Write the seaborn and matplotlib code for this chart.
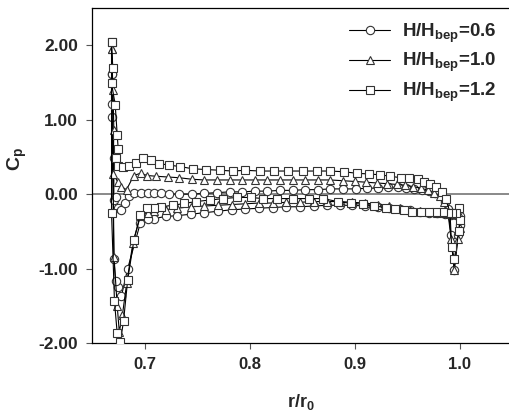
import pandas as pd
import matplotlib
matplotlib.use("Agg")
import matplotlib.pyplot as plt
import seaborn as sns

# pressure coefficient along the blade, each series is a closed loop
# (leading edge -> upper side -> trailing edge -> lower side -> leading edge)
x_06 = [0.6686, 0.6686, 0.6693, 0.6708, 0.6708, 0.6724, 0.6745, 0.6780, 0.6810, 0.6850,
        0.6900, 0.6970, 0.7030, 0.7090, 0.7160, 0.7230, 0.7330, 0.7450, 0.7570, 0.7690,
        0.7810, 0.7930, 0.8050, 0.8170, 0.8290, 0.8410, 0.8530, 0.8650, 0.8770, 0.8890,
        0.9010, 0.9120, 0.9220, 0.9320, 0.9410, 0.9490, 0.9570, 0.9640, 0.9710, 0.9770,
        0.9820, 0.9860, 0.9890, 0.9920, 0.9950, 0.9985, 1.0000, 1.0000, 0.9970, 0.9920,
        0.9860, 0.9790, 0.9710, 0.9620, 0.9530, 0.9430, 0.9330, 0.9220, 0.9100, 0.8980,
        0.8860, 0.8740, 0.8610, 0.8480, 0.8350, 0.8220, 0.8090, 0.7960, 0.7830, 0.7700,
        0.7570, 0.7440, 0.7310, 0.7200, 0.7090, 0.7030, 0.6960, 0.6840, 0.6780, 0.6745,
        0.6725, 0.6708, 0.6686]
cp_06 = [1.62, 1.21, 1.03, 0.48, -0.08, -0.04, -0.19, -0.21, -0.12, -0.02,
         0.01, 0.02, 0.02, 0.01, 0.01, 0.00, 0.00, 0.00, 0.01, 0.02,
         0.03, 0.03, 0.04, 0.04, 0.05, 0.05, 0.06, 0.06, 0.07, 0.07,
         0.07, 0.08, 0.08, 0.09, 0.09, 0.08, 0.07, 0.06, 0.04, 0.02,
         -0.03, -0.10, -0.20, -0.55, -1.02, -0.55, -0.42, -0.30, -0.28, -0.28,
         -0.27, -0.26, -0.25, -0.24, -0.22, -0.20, -0.19, -0.17, -0.16, -0.15,
         -0.15, -0.15, -0.16, -0.17, -0.17, -0.18, -0.19, -0.20, -0.21, -0.23,
         -0.25, -0.27, -0.29, -0.30, -0.33, -0.34, -0.39, -1.00, -1.37, -1.25,
         -1.17, -0.87, 1.62]

x_10 = [0.6686, 0.6700, 0.6708, 0.6700, 0.6746, 0.6778, 0.6829, 0.6898, 0.6962, 0.7026,
        0.7110, 0.7220, 0.7330, 0.7450, 0.7570, 0.7690, 0.7810, 0.7930, 0.8050, 0.8170,
        0.8290, 0.8410, 0.8530, 0.8650, 0.8770, 0.8890, 0.9000, 0.9110, 0.9210, 0.9310,
        0.9400, 0.9480, 0.9560, 0.9630, 0.9700, 0.9760, 0.9810, 0.9850, 0.9890, 0.9920,
        0.9950, 0.9985, 1.0000, 1.0000, 0.9970, 0.9920, 0.9860, 0.9790, 0.9710, 0.9620,
        0.9530, 0.9430, 0.9330, 0.9220, 0.9100, 0.8980, 0.8860, 0.8740, 0.8610, 0.8480,
        0.8350, 0.8220, 0.8090, 0.7960, 0.7830, 0.7700, 0.7570, 0.7440, 0.7310, 0.7200,
        0.7090, 0.7030, 0.6960, 0.6890, 0.6830, 0.6790, 0.6760, 0.6740, 0.6710, 0.6686]
cp_10 = [1.95, 1.40, 0.86, 0.27, 0.165, 0.10, 0.06, 0.25, 0.28, 0.25,
         0.24, 0.23, 0.22, 0.20, 0.19, 0.19, 0.19, 0.19, 0.19, 0.19,
         0.19, 0.19, 0.19, 0.19, 0.19, 0.18, 0.17, 0.16, 0.15, 0.14,
         0.13, 0.12, 0.10, 0.08, 0.05, 0.02, -0.02, -0.10, -0.25, -0.60,
         -1.02, -0.60, -0.45, -0.30, -0.27, -0.27, -0.26, -0.25, -0.24, -0.23,
         -0.21, -0.19, -0.16, -0.14, -0.12, -0.11, -0.10, -0.10, -0.10, -0.11,
         -0.11, -0.12, -0.12, -0.13, -0.14, -0.15, -0.16, -0.17, -0.19, -0.21,
         -0.23, -0.25, -0.30, -0.65, -1.20, -1.62, -1.85, -1.50, -0.85, 1.95]

x_12 = [0.6686, 0.6698, 0.6686, 0.6721, 0.6740, 0.6750, 0.6733, 0.6743, 0.6797, 0.6854,
        0.6917, 0.6981, 0.7060, 0.7140, 0.7230, 0.7340, 0.7460, 0.7590, 0.7720, 0.7840,
        0.7960, 0.8100, 0.8230, 0.8370, 0.8510, 0.8640, 0.8770, 0.8900, 0.9020, 0.9140,
        0.9240, 0.9340, 0.9440, 0.9520, 0.9600, 0.9660, 0.9720, 0.9780, 0.9830, 0.9870,
        0.9910, 0.9925, 0.9950, 0.9995, 1.0000, 0.9995, 0.9970, 0.9930, 0.9890, 0.9840,
        0.9780, 0.9710, 0.9630, 0.9550, 0.9470, 0.9390, 0.9300, 0.9190, 0.9080, 0.8970,
        0.8840, 0.8700, 0.8570, 0.8410, 0.8260, 0.8130, 0.8010, 0.7880, 0.7750, 0.7620,
        0.7490, 0.7380, 0.7270, 0.7160, 0.7090, 0.7025, 0.6960, 0.6900, 0.6840, 0.6800,
        0.6770, 0.6740, 0.6714, 0.6686, 0.6686]
cp_12 = [2.04, 1.70, 1.49, 1.20, 0.80, 0.60, 0.49, 0.375, 0.37, 0.375,
         0.42, 0.48, 0.455, 0.41, 0.39, 0.37, 0.34, 0.33, 0.32, 0.31,
         0.32, 0.31, 0.31, 0.31, 0.31, 0.31, 0.31, 0.30, 0.28, 0.27,
         0.26, 0.24, 0.22, 0.21, 0.20, 0.165, 0.13, 0.10, 0.03, -0.06,
         -0.25, -0.71, -0.87, -0.50, -0.35, -0.19, -0.25, -0.26, -0.25, -0.24,
         -0.24, -0.235, -0.235, -0.235, -0.22, -0.205, -0.18, -0.16, -0.135, -0.125,
         -0.10, -0.06, -0.06, -0.06, -0.06, -0.06, -0.045, -0.045, -0.06, -0.08,
         -0.10, -0.125, -0.15, -0.17, -0.18, -0.19, -0.28, -0.61, -1.15, -1.71,
         -1.98, -1.87, -1.44, -0.25, 2.04]

labels = ["H/H$_{bep}$=0.6", "H/H$_{bep}$=1.0", "H/H$_{bep}$=1.2"]
markers = ["o", "^", "s"]

sns.set_style("ticks")
plt.rcParams["font.family"] = ["Liberation Sans", "DejaVu Sans"]
plt.rcParams["font.weight"] = "bold"
plt.rcParams["mathtext.fontset"] = "custom"
plt.rcParams["mathtext.rm"] = "Liberation Sans:bold"
plt.rcParams["mathtext.bf"] = "Liberation Sans:bold"
plt.rcParams["mathtext.it"] = "Liberation Sans:bold"
plt.rcParams["mathtext.default"] = "bf"

fig = plt.figure(figsize=(5.09, 4.16), dpi=100)
ax = fig.add_axes([92 / 509, 73 / 416, 417 / 509, 335 / 416])

ax.axhline(0, color="#808080", lw=1.3, zorder=1)

for xs, ys, lab, mk in zip([x_06, x_10, x_12], [cp_06, cp_10, cp_12], labels, markers):
    df = pd.DataFrame({"r": xs, "cp": ys})
    sns.lineplot(data=df, x="r", y="cp", sort=False, estimator=None, ax=ax,
                 color="black", lw=0.8, marker=mk, markersize=6,
                 markerfacecolor="white", markeredgecolor="#333333",
                 markeredgewidth=0.8, label=lab, zorder=3)

ax.set_xlim(0.65, 0.65 + 417 / 1050)
ax.set_ylim(-2.0, 2.5)
ax.set_xticks([0.7, 0.8, 0.9, 1.0])
ax.set_xticklabels(["0.7", "0.8", "0.9", "1.0"])
ax.set_yticks([-2, -1, 0, 1, 2])
ax.set_yticklabels(["-2.00", "-1.00", "0.00", "1.00", "2.00"])
ax.tick_params(axis="both", direction="out", length=4, width=0.8, color="#555555",
               labelsize=12, pad=6)
ax.tick_params(axis="y", labelsize=12.5)
for t in ax.get_xticklabels() + ax.get_yticklabels():
    t.set_fontweight("bold")

ax.spines["right"].set_visible(False)
for s in ["left", "top", "bottom"]:
    ax.spines[s].set_linewidth(0.9)
    ax.spines[s].set_color("black")

ax.set_xlabel("r/r$_0$", fontsize=13, fontweight="bold")
ax.set_ylabel("C$_p$", fontsize=14, fontweight="bold")
ax.xaxis.set_label_coords(0.5, -0.145)
ax.yaxis.set_label_coords(-0.15, 0.55)

ax.legend(loc="upper right", bbox_to_anchor=(1.01, 1.01), frameon=False,
          prop={"size": 13.5, "weight": "bold"}, handlelength=2.2,
          handletextpad=0.6, labelspacing=0.35)

fig.savefig("out.png", dpi=100)
